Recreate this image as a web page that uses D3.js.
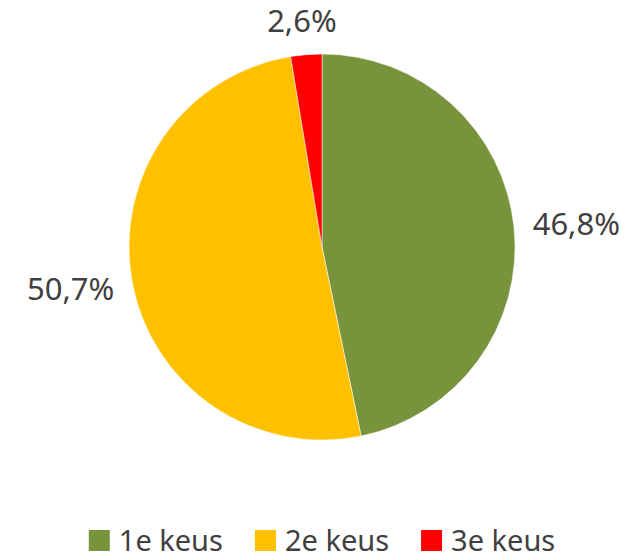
<!DOCTYPE html>
<html>
<head>
<meta charset="utf-8">
<script src="https://cdn.jsdelivr.net/npm/d3@7"></script>
<style>
  body { margin: 0; background: #fff; }
  svg { display: block; }
</style>
</head>
<body>
<svg id="chart" width="631" height="560"></svg>
<script>
// data
var categories = ['1e keus', '2e keus', '3e keus'];
var values = [46.8, 50.7, 2.6];
var labels = ['46,8%', '50,7%', '2,6%'];
var colors = ['#77933C', '#FFC000', '#FF0000'];

var svg = d3.select('#chart');
var font = "'Noto Sans', 'Open Sans', sans-serif";
var textColor = '#404040';

var cx = 322, cy = 247, r = 193;

var pie = d3.pie().sort(null).value(function(d) { return d; });
var arcs = pie(values);
var arc = d3.arc().innerRadius(0).outerRadius(r);

var g = svg.append('g').attr('transform', 'translate(' + cx + ',' + cy + ')');

g.selectAll('path.slice')
    .data(arcs)
    .enter()
    .append('path')
    .attr('class', 'slice')
    .attr('d', arc)
    .style('fill', function(d, i) { return colors[i]; })
    .style('stroke', '#fff')
    .style('stroke-width', 0.5);

// labels sit just outside the pie, box edge touching a ring at r + gap
var gap = 19;
var labelSize = 31;
g.selectAll('text.lbl')
    .data(arcs)
    .enter()
    .append('text')
    .attr('class', 'lbl')
    .text(function(d, i) { return labels[i]; })
    .style('font-family', font)
    .style('font-size', labelSize + 'px')
    .style('fill', textColor)
    .attr('text-anchor', 'middle')
    .each(function(d) {
        var a = (d.startAngle + d.endAngle) / 2;
        var s = Math.sin(a), c = -Math.cos(a);
        var w = this.getBBox().width, h = 30;
        var x = (r + gap) * s + w / 2 * s;
        var y = (r + gap) * c + h / 2 * c;
        // baseline offset so the box is centred on y
        d3.select(this).attr('x', x).attr('y', y + labelSize * 0.36);
    });

// legend
var legend = svg.append('g');
var items = legend.selectAll('g.item')
    .data(categories)
    .enter()
    .append('g')
    .attr('class', 'item');

items.append('rect')
    .attr('width', 21)
    .attr('height', 21)
    .attr('y', -21)
    .style('fill', function(d, i) { return colors[i]; });

items.append('text')
    .attr('x', 30)
    .text(function(d) { return d; })
    .style('font-family', font)
    .style('font-size', '29px')
    .style('fill', textColor);

var xpos = 0;
var spacing = 32;
items.each(function() {
    var w = this.getBBox().width;
    d3.select(this).attr('transform', 'translate(' + xpos + ',0)');
    xpos += w + spacing;
});
var total = xpos - spacing;
legend.attr('transform', 'translate(' + (cx - total / 2) + ',551)');
</script>
</body>
</html>
